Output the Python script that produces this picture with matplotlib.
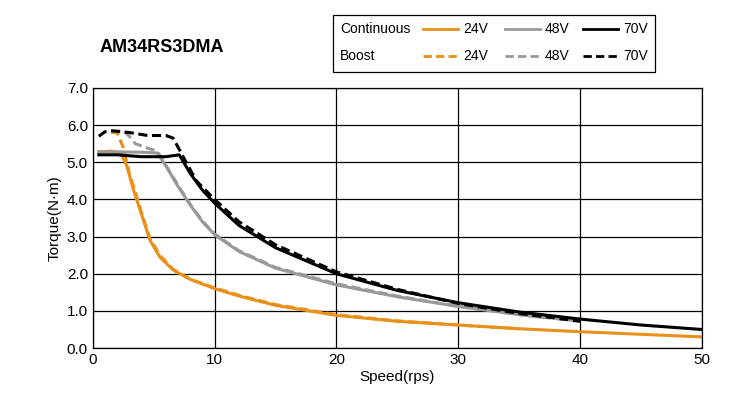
import matplotlib
matplotlib.use("Agg")
import matplotlib.pyplot as plt
import numpy as np
from matplotlib.patches import Rectangle
from matplotlib.lines import Line2D
plt.rcParams['font.family'] = ['Liberation Sans', 'DejaVu Sans']

c24_x = [0.5, 1.5, 2.3, 2.8, 3.3, 3.9, 4.7, 5.5, 6.6, 8, 10, 12, 15, 20, 25, 30, 35, 40, 45, 50]
c24_y = [5.28, 5.3, 5.25, 4.9, 4.3, 3.7, 2.9, 2.45, 2.1, 1.85, 1.6, 1.4, 1.15, 0.88, 0.72, 0.62, 0.52, 0.44, 0.37, 0.3]
b24_x = [1.5, 2.0, 2.5, 3.0, 3.5, 3.9, 4.7, 5.5, 6.6, 8, 10, 12, 15, 20, 25, 30, 35]
b24_y = [5.8, 5.8, 5.4, 4.7, 4.2, 3.75, 2.95, 2.5, 2.12, 1.85, 1.62, 1.42, 1.17, 0.9, 0.73, 0.62, 0.52]
c48_x = [0.5, 2, 4, 5.3, 6, 7, 8, 9, 10, 12, 15, 20, 25, 30, 35, 37]
c48_y = [5.28, 5.28, 5.27, 5.25, 4.9, 4.35, 3.85, 3.4, 3.05, 2.6, 2.15, 1.7, 1.38, 1.12, 0.9, 0.82]
b48_x = [1.5, 2.5, 3.0, 3.5, 4.5, 5.3, 6, 7, 8, 9, 10, 12, 15, 20, 25, 30, 35, 40]
b48_y = [5.82, 5.85, 5.7, 5.5, 5.38, 5.3, 4.92, 4.38, 3.87, 3.42, 3.07, 2.62, 2.17, 1.73, 1.4, 1.12, 0.9, 0.72]
c70_x = [0.5, 2, 4, 6, 7.1, 8, 9, 10, 12, 15, 20, 25, 30, 35, 40, 45, 50]
c70_y = [5.2, 5.2, 5.15, 5.15, 5.2, 4.7, 4.25, 3.9, 3.3, 2.7, 2.0, 1.55, 1.22, 0.97, 0.78, 0.62, 0.5]
b70_x = [0.5, 1.0, 1.5, 3, 4.5, 6, 6.6, 7.5, 8.5, 10, 12, 15, 20, 25, 30, 35, 40]
b70_y = [5.7, 5.82, 5.85, 5.8, 5.72, 5.72, 5.65, 5.1, 4.5, 4.0, 3.4, 2.78, 2.05, 1.58, 1.2, 0.93, 0.72]

orange, gray = "#E8901A", "#999999"
fig = plt.figure(figsize=(7.42, 4.09), dpi=100)
ax = fig.add_axes([0.125, 0.149, 0.821, 0.636])
lw = 2.2
ax.plot(c24_x, c24_y, color=orange, lw=lw)
ax.plot(b24_x, b24_y, color=orange, lw=lw, ls=(0, (3, 1.5)))
ax.plot(c48_x, c48_y, color=gray, lw=lw)
ax.plot(b48_x, b48_y, color=gray, lw=lw, ls=(0, (3, 1.5)))
ax.plot(c70_x, c70_y, color="black", lw=lw)
ax.plot(b70_x, b70_y, color="black", lw=lw, ls=(0, (3, 1.5)))
ax.set_xlim(0, 50); ax.set_ylim(0, 7)
ax.set_xticks([0, 10, 20, 30, 40, 50])
ax.set_yticks(np.arange(0, 8))
ax.set_yticklabels([f"{v:.1f}" for v in range(8)])
ax.grid(True, color="black", lw=0.9)
ax.set_axisbelow(True)
for s in ax.spines.values():
    s.set_color("black"); s.set_linewidth(0.9)
ax.tick_params(length=0, labelsize=11)
ax.set_xlabel("Speed(rps)", fontsize=11, labelpad=2)
ax.set_ylabel("Torque(N·m)", fontsize=11)
fig.text(100/742, 1-47/409, "AM34RS3DMA", fontsize=13, fontweight="bold", va="center")

W, H = 742, 409
fig.patches.append(Rectangle((333/W, 1-72/H), 322/W, 57/H, transform=fig.transFigure,
                             fill=False, ec="black", lw=0.9))
def fx(x): return x/W
def fy(y): return 1-y/H
for row, (label, ls, yy) in enumerate([("Continuous", "-", 29), ("Boost", (0, (3, 1.5)), 56)]):
    fig.text(fx(340), fy(yy), label, fontsize=10, va="center")
    for x0, col, v in [(423, orange, "24V"), (505, gray, "48V"), (583, "black", "70V")]:
        fig.lines.append(Line2D([fx(x0), fx(x0+35)], [fy(yy), fy(yy)], transform=fig.transFigure,
                                color=col, lw=2, ls=ls))
        fig.text(fx(x0+40), fy(yy), v, fontsize=10, va="center")
fig.savefig("out.png", dpi=100)
